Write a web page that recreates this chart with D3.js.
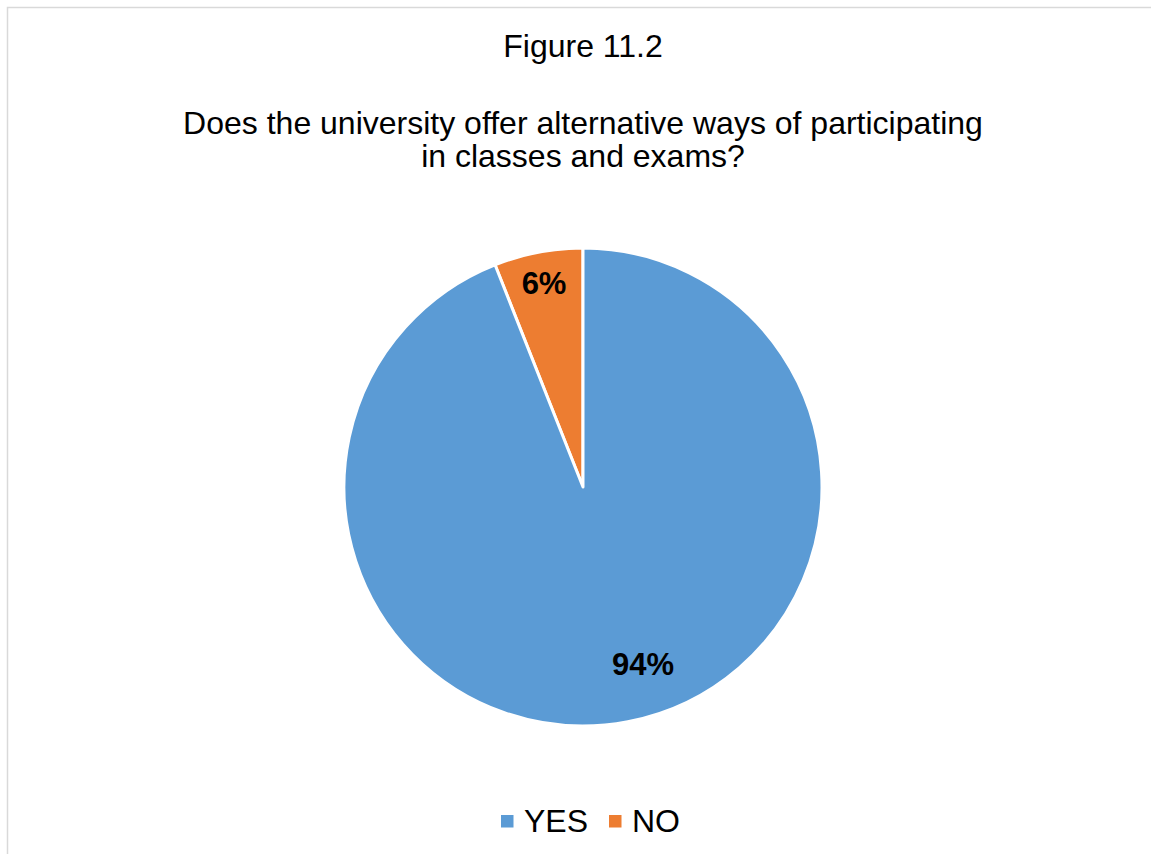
<!DOCTYPE html>
<html>
<head>
<meta charset="utf-8">
<script src="https://cdn.jsdelivr.net/npm/d3@7"></script>
<style>
  html, body { margin: 0; padding: 0; background: #fff; }
  svg { display: block; }
  text { font-family: "Liberation Sans", Arial, sans-serif; }
</style>
</head>
<body>
<div id="chart"></div>
<script>
// Survey answers (percent of respondents)
const categories = ["NO", "YES"];
const values = [6, 94];
const colors = ["#ED7D31", "#5B9BD5"];
const legendOrder = ["YES", "NO"];
const figureLabel = "Figure 11.2";
const titleLines = [
  "Does the university offer alternative ways of participating",
  "in classes and exams?"
];

const W = 1151, H = 854;
const svg = d3.select("#chart").append("svg")
  .attr("width", W).attr("height", H);

// chart frame
svg.append("rect")
  .attr("x", 7.5).attr("y", 7.5)
  .attr("width", W + 20).attr("height", H + 20)
  .attr("fill", "#fff").attr("stroke", "#d9d9d9").attr("stroke-width", 1.5);

// titles
svg.append("text")
  .attr("x", 583).attr("y", 57)
  .attr("text-anchor", "middle")
  .attr("font-size", 32).attr("fill", "#000")
  .text(figureLabel);

svg.append("g").selectAll("text")
  .data(titleLines).join("text")
  .attr("x", 583)
  .attr("y", (d, i) => 133.5 + i * 33.5)
  .attr("text-anchor", "middle")
  .attr("font-size", 32).attr("fill", "#000")
  .text(d => d);

// pie, drawn counter-clockwise from 12 o'clock
const cx = 583, cy = 487, R = 239;
const pie = d3.pie().sort(null).value(d => d.value)
  .startAngle(0).endAngle(-2 * Math.PI);
const arcs = pie(categories.map((c, i) => ({ cat: c, value: values[i], color: colors[i] })));
const arc = d3.arc().innerRadius(0).outerRadius(R);

const g = svg.append("g").attr("transform", `translate(${cx},${cy})`);
g.selectAll("path")
  .data(arcs).join("path")
  .attr("d", arc)
  .attr("fill", d => d.data.color)
  .attr("stroke", "#fff")
  .attr("stroke-width", 3)
  .attr("stroke-linejoin", "round");

// data labels: small slice centred near the rim, large slice in its lower part
const labelPos = d => {
  const frac = d.data.cat === "NO" ? 0.5 : 0.5236;
  const r = d.data.cat === "NO" ? R * 0.87 : R * 0.78;
  const a = d.startAngle + (d.endAngle - d.startAngle) * frac;
  return [r * Math.sin(a), -r * Math.cos(a)];
};

g.selectAll("text.lbl")
  .data(arcs).join("text")
  .attr("class", "lbl")
  .attr("transform", d => `translate(${labelPos(d)})`)
  .attr("text-anchor", "middle")
  .attr("dy", "0.36em")
  .attr("font-size", 31).attr("font-weight", "bold").attr("fill", "#000")
  .text(d => d3.format(".0f")(d.data.value) + "%");

// legend
const legend = svg.append("g");
const legendItems = legendOrder.map(c => ({ cat: c, color: colors[categories.indexOf(c)] }));
const legX = [501, 609];
legend.selectAll("rect")
  .data(legendItems).join("rect")
  .attr("x", (d, i) => legX[i]).attr("y", 815)
  .attr("width", 12.5).attr("height", 12.5)
  .attr("fill", d => d.color);
legend.selectAll("text")
  .data(legendItems).join("text")
  .attr("x", (d, i) => legX[i] + 23).attr("y", 831.5)
  .attr("font-size", 32).attr("fill", "#000")
  .text(d => d.cat);
</script>
</body>
</html>
